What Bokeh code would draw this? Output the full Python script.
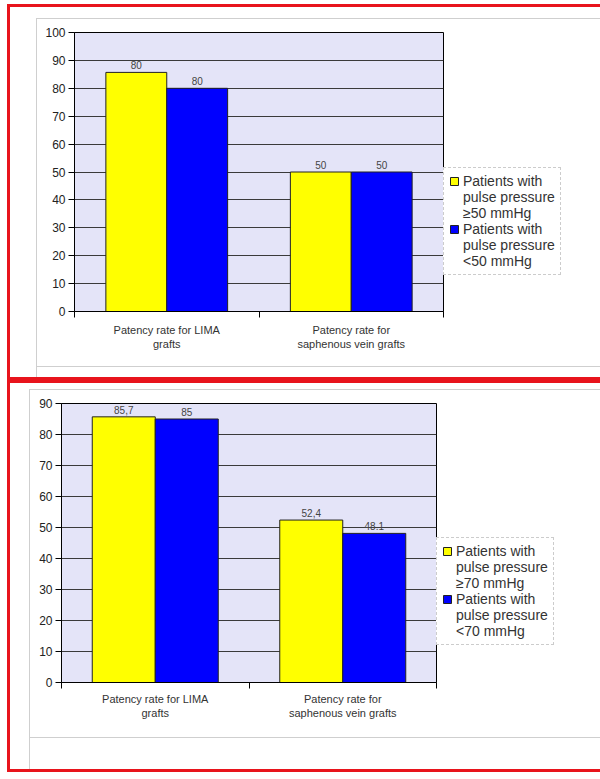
from bokeh.plotting import figure
from bokeh.models import (Range1d, FixedTicker, Legend, LegendItem,
                          ColumnDataSource, LabelSet)
from bokeh.core.properties import value
from bokeh.transform import dodge
from bokeh.layouts import column, row
from bokeh.embed import file_html
from bokeh.resources import INLINE

# ---------------- data ----------------
categories = ["Patency rate for LIMA grafts", "Patency rate for saphenous vein grafts"]
category_tick_labels = ["Patency rate for LIMA\ngrafts", "Patency rate for\nsaphenous vein grafts"]

top_high_pp = [85.7, 50]          # pulse pressure >= 50 mmHg
top_low_pp = [80, 50]             # pulse pressure < 50 mmHg
top_high_text = ["80", "50"]
top_low_text = ["80", "50"]
top_legend = ["Patients with\npulse pressure\n\u226550 mmHg", "Patients with\npulse pressure\n<50 mmHg"]
top_yticks = [0, 10, 20, 30, 40, 50, 60, 70, 80, 90, 100]

bot_high_pp = [85.7, 52.4]        # pulse pressure >= 70 mmHg
bot_low_pp = [85, 48.1]           # pulse pressure < 70 mmHg
bot_high_text = ["85,7", "52,4"]
bot_low_text = ["85", "48.1"]
bot_legend = ["Patients with\npulse pressure\n\u226570 mmHg", "Patients with\npulse pressure\n<70 mmHg"]
bot_yticks = [0, 10, 20, 30, 40, 50, 60, 70, 80, 90]

FONT = "Liberation Sans"
YELLOW = "#FFFF00"
BLUE = "#0000FF"
PLOT_BG = "#E4E4F8"
RED = "#E8141C"
GRAY = "#cfcfcf"


def frame_shadow(L, R, T, B):
    # red 3px border on top, then a 1px light gray rectangle at margins L, R, T, B
    # (its left edge continues down to the red border)
    parts = ["inset 0 0 0 3px " + RED,
             f"inset 0 {T}px 0 0 white",
             f"inset {L}px 0 0 0 white",
             f"inset {L + 1}px 0 0 0 {GRAY}",
             f"inset -{R}px 0 0 0 white",
             f"inset 0 -{B}px 0 0 white",
             f"inset -{R + 1}px 0 0 0 {GRAY}",
             f"inset 0 {T + 1}px 0 0 {GRAY}",
             f"inset 0 -{B + 1}px 0 0 {GRAY}"]
    return ", ".join(parts)


def make_panel(W, H, fl, ft, fw, fh, yticks, hi, lo, hi_text, lo_text, legend_labels,
               bar_w, gray_margins, legend_bottom, x_standoff, legend_margin):
    fb = H - ft - fh
    p = figure(width=W, height=H, frame_width=fw, frame_height=fh,
               min_border_left=fl, min_border_right=0, min_border_top=ft, min_border_bottom=fb,
               x_range=Range1d(0, len(categories)), y_range=Range1d(yticks[0], yticks[-1]),
               output_backend="svg", toolbar_location=None, tools="",
               styles={"box-shadow": frame_shadow(*gray_margins)})
    p.background_fill_color = PLOT_BG
    p.border_fill_color = None
    p.outline_line_color = "black"
    p.outline_line_width = 1

    xs = [i + 0.5 for i in range(len(categories))]
    src = ColumnDataSource(dict(x=xs, hi=hi, lo=lo, hi_text=hi_text, lo_text=lo_text))

    r_hi = p.vbar(x=dodge("x", -bar_w / 2, range=p.x_range), top="hi", bottom=0, width=bar_w,
                  source=src, fill_color=YELLOW, line_color="#222222", line_width=1)
    r_lo = p.vbar(x=dodge("x", bar_w / 2, range=p.x_range), top="lo", bottom=0, width=bar_w,
                  source=src, fill_color=BLUE, line_color="#222222", line_width=1)
    # invisible renderer for continuation lines of the legend labels
    r_blank = p.vbar(x=[], top=[], width=0.1, fill_alpha=0, line_alpha=0)

    for col, txt, off in (("hi", "hi_text", -bar_w / 2), ("lo", "lo_text", bar_w / 2)):
        ls = LabelSet(x=dodge("x", off, range=p.x_range), y=col, text=txt, source=src,
                      text_align="center", text_baseline="bottom", y_offset=3,
                      text_font=value(FONT), text_font_size="10px", text_color="#444444")
        p.add_layout(ls)

    # axes
    p.xaxis.ticker = FixedTicker(ticks=xs, minor_ticks=list(range(len(categories) + 1)))
    p.xaxis.major_label_overrides = {x: lab for x, lab in zip(xs, category_tick_labels)}
    p.xaxis.major_tick_line_color = None
    p.xaxis.minor_tick_out = 6
    p.xaxis.minor_tick_in = 0
    p.xaxis.minor_tick_line_color = "black"
    p.xaxis.axis_line_color = "black"
    p.xaxis.major_label_text_font = FONT
    p.xaxis.major_label_text_font_size = "11px"
    p.xaxis.major_label_text_color = "#333333"
    p.xaxis.major_label_standoff = x_standoff

    p.yaxis.ticker = FixedTicker(ticks=yticks)
    p.yaxis.minor_tick_line_color = None
    p.yaxis.major_tick_out = 6
    p.yaxis.major_tick_in = 0
    p.yaxis.major_tick_line_color = "black"
    p.yaxis.axis_line_color = "black"
    p.yaxis.major_label_text_font = FONT
    p.yaxis.major_label_text_font_size = "12px"
    p.yaxis.major_label_text_color = "#222222"
    p.yaxis.major_label_standoff = 3

    p.xgrid.grid_line_color = None
    p.ygrid.ticker = FixedTicker(ticks=yticks)
    p.ygrid.grid_line_color = "#3a3a3a"
    p.ygrid.grid_line_width = 1

    items = []
    for lab, rend in zip(legend_labels, (r_hi, r_lo)):
        lines = lab.split("\n")
        items.append(LegendItem(label=lines[0], renderers=[rend]))
        for extra in lines[1:]:
            items.append(LegendItem(label=extra, renderers=[r_blank]))

    legend = Legend(items=items, location=(0, legend_bottom), orientation="vertical")
    legend.label_text_font = FONT
    legend.label_text_font_size = "14px"
    legend.label_text_color = "#333333"
    legend.label_height = 16
    legend.glyph_width = 10
    legend.glyph_height = 10
    legend.label_standoff = 4
    legend.padding = 5
    legend.margin = legend_margin
    legend.spacing = 0
    legend.border_line_color = "#9a9a9a"
    legend.border_line_dash = "2 2"
    legend.border_line_width = 1
    legend.background_fill_color = "white"
    legend.background_fill_alpha = 1
    p.add_layout(legend, "right")
    return p


p1 = make_panel(588, 376, 67, 28, 369, 279, top_yticks, top_high_pp, top_low_pp,
                top_high_text, top_low_text, top_legend, 0.33,
                (29, 21, 14, 13), 36, 6, 17)
p2 = make_panel(583, 392, 54, 23, 375, 279, bot_yticks, bot_high_pp, bot_low_pp,
                bot_high_text, bot_low_text, bot_legend, 0.336,
                (22, 23, 9, 34), 37, 4, 18)

layout = column(row(p1), row(p2), spacing=0,
                styles={"margin-top": "4px", "margin-left": "7px"})
open("out.html", "w").write(file_html(layout, INLINE))
